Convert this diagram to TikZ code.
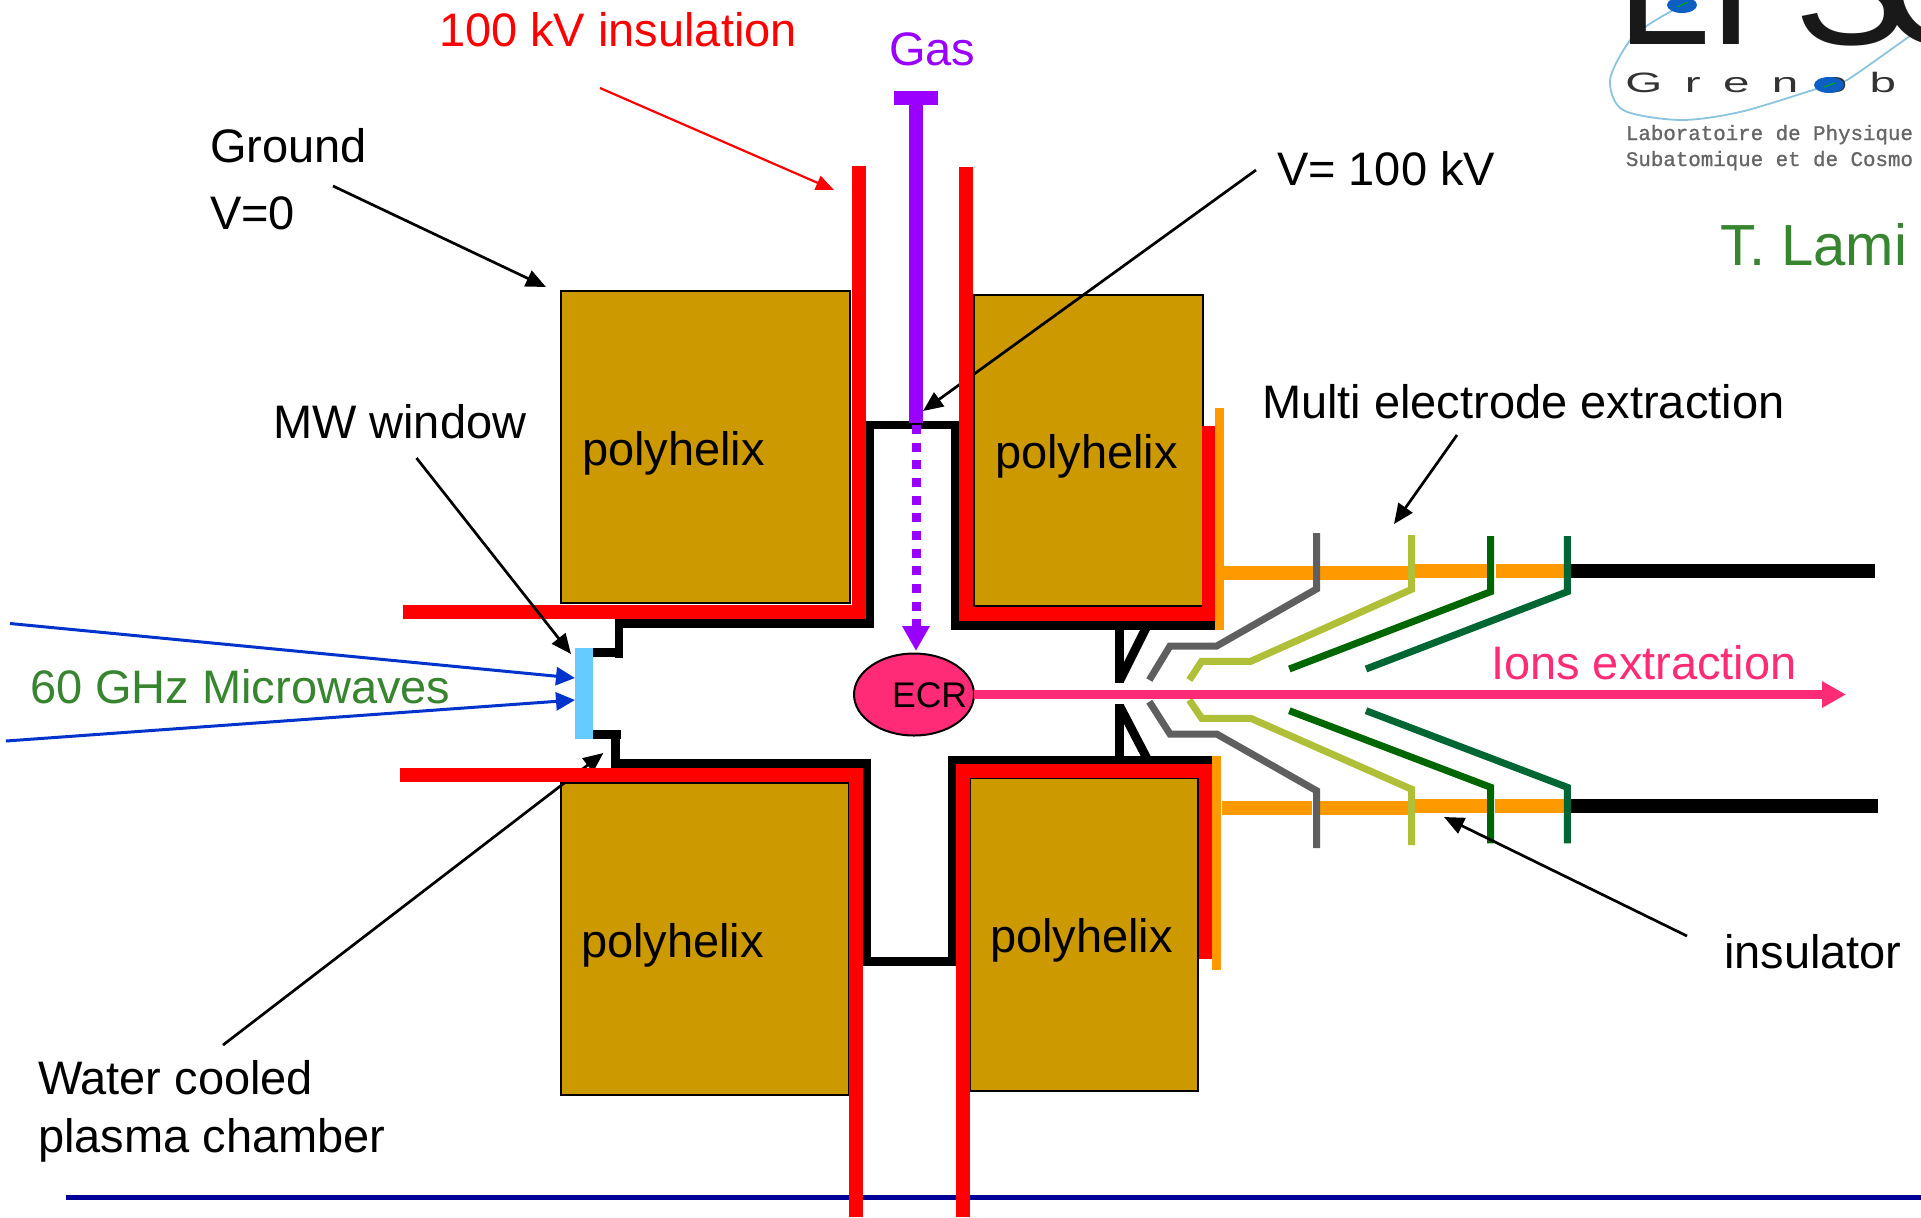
\documentclass[tikz,border=0pt]{standalone}
\usepackage{fontspec}
\setmainfont{Liberation Sans}
\newfontfamily\logowide[FakeStretch=1.7,LetterSpace=80]{Liberation Sans}
\newfontfamily\logomono[FakeBold=1]{Liberation Mono}
\usetikzlibrary{arrows.meta,shapes.geometric}
\definecolor{cred}{HTML}{FF0000}
\definecolor{corange}{HTML}{FF9900}
\definecolor{cpurple}{HTML}{9900FF}
\definecolor{cbox}{HTML}{CC9900}
\definecolor{cpink}{HTML}{FF2B77}
\definecolor{cwin}{HTML}{66CCFF}
\definecolor{cblue}{HTML}{0033CC}
\definecolor{cnavy}{HTML}{000099}
\definecolor{cgreen}{HTML}{388530}
\definecolor{cgrey}{HTML}{5F5F5F}
\definecolor{colive}{HTML}{B0BF38}
\definecolor{cdark}{HTML}{006600}
\definecolor{cteal}{HTML}{006633}
\definecolor{corbit}{HTML}{8CC4E0}
\definecolor{cdot}{HTML}{0D5FC4}
\tikzset{
  lbl/.style={anchor=base west,inner sep=0pt,outer sep=0pt,font=\fontsize{23.5pt}{28pt}\selectfont},
  coil/.style={draw=black,line width=0.9pt,fill=cbox,anchor=north west,inner sep=0pt,outer sep=0pt},
  redwall/.style={draw=cred,line width=7pt,line cap=butt},
  blackwall/.style={draw=black,line width=4.4pt,line cap=butt},
  orangebar/.style={draw=corange,line width=7pt},
  orangeplate/.style={draw=corange,line width=4.5pt},
  blackbar/.style={draw=black,line width=7pt},
  greyel/.style={draw=cgrey,line width=3.5pt},
  oliveel/.style={draw=colive,line width=3.5pt},
  darkel/.style={draw=cdark,line width=3.5pt},
  tealel/.style={draw=cteal,line width=3.5pt},
  callout/.style={draw=black,line width=1.35pt,-{Triangle[length=10pt,width=8.5pt]}},
  redcallout/.style={draw=cred,line width=1.1pt,-{Triangle[length=9pt,width=7.5pt]}},
  ray/.style={draw=cblue,line width=1.5pt,-{Triangle[length=9.5pt,width=9pt]}}
}
\begin{document}
\begin{tikzpicture}[x=0.5pt,y=-0.5pt]
\path[clip,use as bounding box] (0,0) rectangle (1921,1217);
\fill[white] (0,0) rectangle (1921,1217);

% logo
\draw[corbit,line width=0.9pt] plot[smooth] coordinates {(1682,5) (1648,25) (1628,43) (1610,80) (1623,110) (1680,120) (1740,112) (1813,90) (1829,85) (1847,80) (1900,43) (1921,28)};
\node[anchor=base west,inner sep=0pt,text=black!90,font=\fontsize{85pt}{90pt}\selectfont] (logoname) at (1616,44) {L\kern-0.75ptP\kern-14ptS\kern-15.5ptC};
\node[anchor=base west,inner sep=0pt,text=black!80,font=\logowide\fontsize{14pt}{16pt}\selectfont] (logocity) at (1625,92.5) {Grenoble};
\fill[cdot] (1682,5) ellipse [x radius=15,y radius=8];
\fill[cdot] (1829,85) ellipse [x radius=15,y radius=8];
\draw[green!70!black,line width=0.5pt] (1677,7) -- (1688,2);
\draw[green!70!black,line width=0.5pt] (1824,87) -- (1835,83);
\node[anchor=base west,inner sep=0pt,text=black!60,font=\logomono\fontsize{10.4pt}{12pt}\selectfont] (logolab) at (1625.5,140) {Laboratoire de Physique};
\node[anchor=base west,inner sep=0pt,text=black!60,font=\logomono\fontsize{10.4pt}{12pt}\selectfont] (logosub) at (1625.5,166) {Subatomique et de Cosmo};
\node[lbl,text=cgreen,font=\fontsize{29pt}{32pt}\selectfont] (lami) at (1720,265) {T. Lami};

% base line
\coordinate (navyA) at (66,1197.5);
\coordinate (navyB) at (1921,1197.5);
\draw[cnavy,line width=2.5pt] (navyA) -- (navyB);

% coils
\node[coil,minimum width=144.5pt,minimum height=156pt] (coilTL) at (561,291) {};
\node[coil,minimum width=114.5pt,minimum height=155.5pt] (coilTR) at (974,295) {};
\node[coil,minimum width=144pt,minimum height=156pt] (coilBL) at (561,783) {};
\node[coil,minimum width=114pt,minimum height=156.5pt] (coilBR) at (970,778) {};

% callouts that pass under the walls
\coordinate (waterTail) at (223,1045);
\coordinate (waterTip) at (603.4,753);
\draw[callout] (waterTail) -- (waterTip);
\coordinate (vTail) at (1256,170);
\coordinate (vTip) at (923,411);
\draw[callout] (vTail) -- (vTip);

% black chamber
\draw[blackwall] (593,652.3) -- (623,652.3);
\draw[blackwall] (619,657.7) -- (619,623.5);
\draw[blackwall] (614.5,623.5) -- (870,623.5) -- (870,425) -- (955,425) -- (955,625.5) -- (1215,625.5);
\draw[blackwall] (593,734.7) -- (621,734.7);
\draw[blackwall] (615.5,730) -- (615.5,763.5);
\draw[blackwall] (611,763.5) -- (867,763.5) -- (867,961.3) -- (952,961.3) -- (952,760.5) -- (1212,760.5);

% V-shaped extraction lips
\draw[blackwall] (1119.5,627) -- (1119.5,682.7);
\draw[blackwall] (1146,628) -- (1120,680);
\draw[blackwall] (1119.5,704) -- (1119.5,758);
\draw[blackwall] (1120,706.7) -- (1146.7,758);

% red insulation
\draw[redwall] (403,612) -- (859,612) -- (859,166);
\draw[redwall] (966,167) -- (966,613.5) -- (1208.5,613.5) -- (1208.5,426);
\draw[redwall] (400,775) -- (856,775) -- (856,1217);
\draw[redwall] (963,1217) -- (963,770.5) -- (1205.5,770.5) -- (1205.5,959);

% orange insulators
\draw[orangeplate] (1219.5,408) -- (1219.5,630);
\draw[orangeplate] (1216.5,756) -- (1216.5,970);
\draw[orangebar] (1224,573) -- (1408,573);
\draw[orangebar] (1408,571) -- (1487,571);
\draw[orangebar] (1496,571) -- (1565,571);
\draw[orangebar] (1222,808) -- (1312,808);
\draw[orangebar] (1319,808) -- (1408,808);
\draw[orangebar] (1408,806) -- (1487,806);
\draw[orangebar] (1495,806) -- (1565,806);
\draw[blackbar] (1564,571) -- (1875,571);
\draw[blackbar] (1567,805.5) -- (1878,805.5);

% electrodes
\draw[greyel] (1316.5,533) -- (1316.5,589) -- (1216.7,646) -- (1170,646) -- (1149.3,680);
\draw[greyel] (1316.5,848) -- (1316.5,790.7) -- (1216.7,734) -- (1170,734) -- (1149.3,701.7);
\draw[oliveel] (1411.7,535) -- (1411.7,589.3) -- (1250.7,661.3) -- (1201.7,661.3) -- (1189.3,680);
\draw[oliveel] (1411.7,845) -- (1411.7,789.3) -- (1250.7,718.3) -- (1201.7,718.3) -- (1189.3,700);
\draw[darkel] (1490.7,536) -- (1490.7,591.7) -- (1289.3,669);
\draw[darkel] (1490.7,843.3) -- (1490.7,787.3) -- (1289.3,710.7);
\draw[tealel] (1567.3,536) -- (1567.3,591.7) -- (1366,669);
\draw[tealel] (1567.3,843.3) -- (1567.3,787.3) -- (1366,710.7);

% microwave window
\node[draw=none,fill=cwin,minimum width=9pt,minimum height=45.5pt,inner sep=0pt,outer sep=0pt,anchor=north west] (mwin) at (575,648) {};
\coordinate (rayA) at (10,623.5);
\coordinate (rayB) at (6,741);
\coordinate (rayAtip) at (575,678);
\coordinate (rayBtip) at (575,700);
\draw[ray] (rayA) -- (rayAtip);
\draw[ray] (rayB) -- (rayBtip);

% gas feed
\coordinate (gasBarL) at (894,98);
\coordinate (gasBarR) at (938,98);
\coordinate (gasTop) at (916,98);
\coordinate (gasEnd) at (916,422.7);
\coordinate (gasDot) at (916,425);
\coordinate (gasTip) at (916,651);
\draw[cpurple,line width=7pt] (gasBarL) -- (gasBarR);
\draw[cpurple,line width=7pt] (gasTop) -- (gasEnd);
\draw[cpurple,line width=4.5pt,dash pattern=on 4.5pt off 4.33pt,-{Triangle[length=12.5pt,width=13pt]}] (gasDot) -- (gasTip);

% ECR and ion beam
\node[ellipse,draw=black,line width=1pt,fill=cpink,minimum width=60pt,minimum height=41pt,inner sep=0pt,outer sep=0pt] (ecr) at (914,694.5) {};
\node[lbl,font=\fontsize{17.8pt}{20pt}\selectfont] (ecrtext) at (892,707) {ECR};
\coordinate (beamTip) at (1846,694.5);
\draw[cpink,line width=4.5pt,-{Triangle[length=12pt,width=12.5pt]}] (ecr.east) -- (beamTip);

% callouts on top
\coordinate (redTail) at (600,88);
\coordinate (redTip) at (834,190);
\draw[redcallout] (redTail) -- (redTip);
\coordinate (groundTail) at (333,186);
\coordinate (groundTip) at (546,287);
\draw[callout] (groundTail) -- (groundTip);
\coordinate (mwTail) at (416.5,458);
\coordinate (mwTip) at (571,654);
\draw[callout] (mwTail) -- (mwTip);
\coordinate (multiTail) at (1457,435);
\coordinate (multiTip) at (1394,524);
\draw[callout] (multiTail) -- (multiTip);
\coordinate (insTail) at (1687,936);
\coordinate (insTip) at (1444,817);
\draw[callout] (insTail) -- (insTip);

% labels
\node[lbl,text=cred] (tinsul) at (439,46) {100 kV insulation};
\node[lbl,text=cpurple] (tgas) at (889,65) {Gas};
\node[lbl] (tground) at (210,162) {Ground};
\node[lbl] (tvzero) at (210,229) {V=0};
\node[lbl] (tvhigh) at (1277,185) {V= 100 kV};
\node[lbl] (tmw) at (273,438) {MW window};
\node[lbl] (tpolyA) at (582,465) {polyhelix};
\node[lbl] (tpolyB) at (995,468) {polyhelix};
\node[lbl] (tpolyC) at (581,957) {polyhelix};
\node[lbl] (tpolyD) at (990,952) {polyhelix};
\node[lbl] (tmulti) at (1262,418) {Multi electrode extraction};
\node[lbl,text=cpink] (tions) at (1491,679) {Ions extraction};
\node[lbl,text=cgreen] (tghz) at (30,703) {60 GHz Microwaves};
\node[lbl] (tinsr) at (1724,968) {insulator};
\node[lbl] (twater) at (38,1094) {Water cooled};
\node[lbl] (tplasma) at (38,1152) {plasma chamber};
\end{tikzpicture}
\end{document}
